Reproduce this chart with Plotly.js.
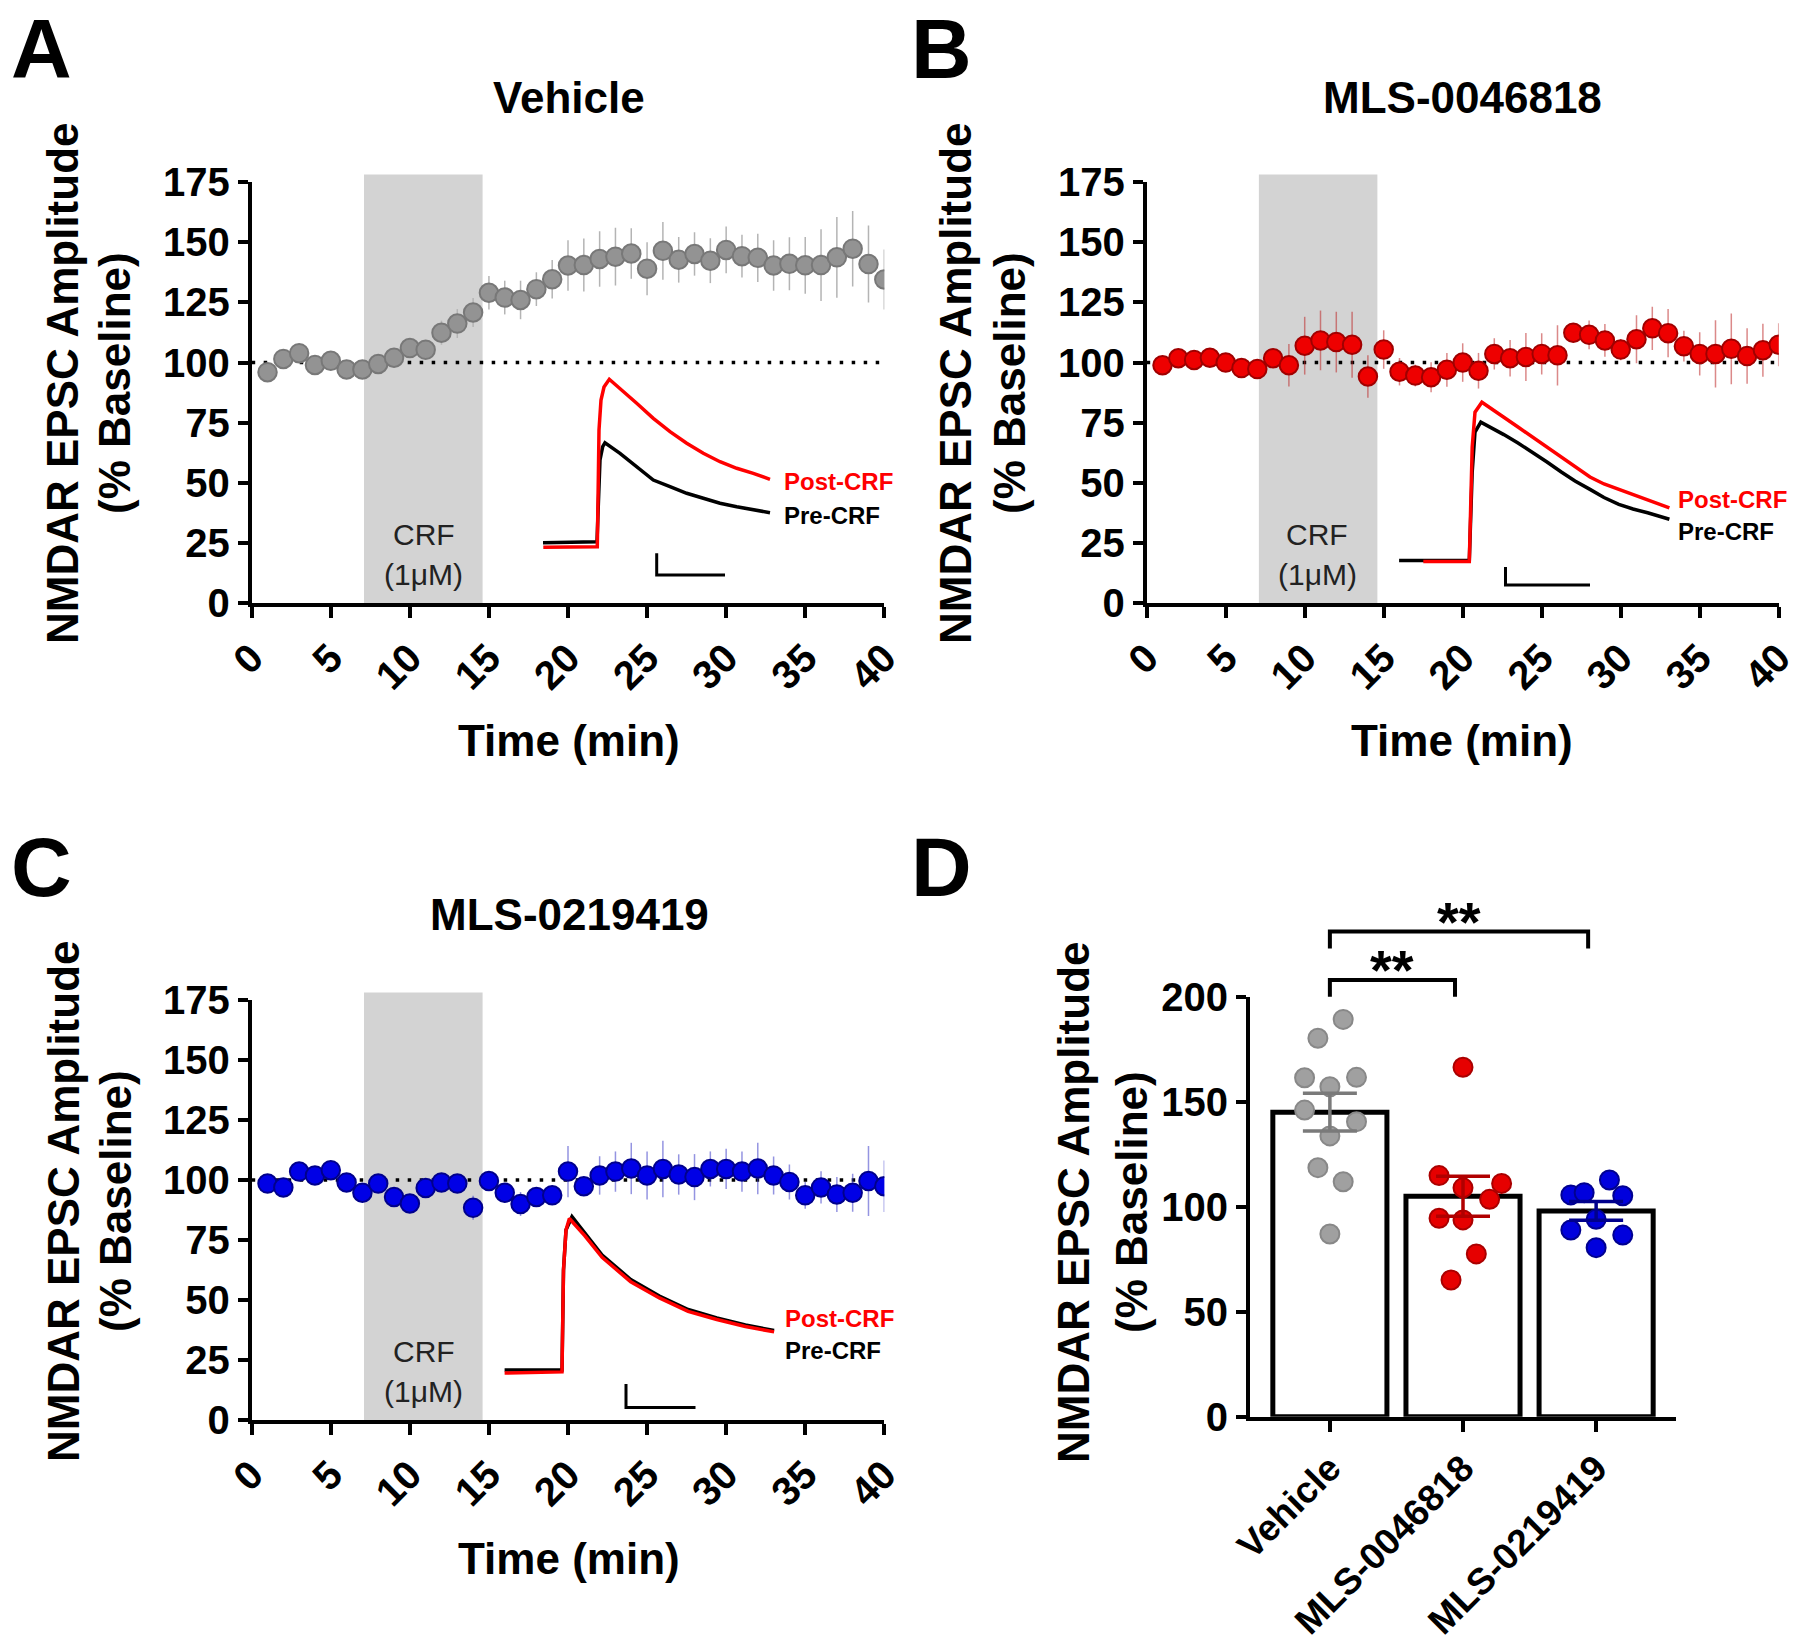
<!DOCTYPE html>
<html>
<head>
<meta charset="utf-8">
<script src="https://cdn.plot.ly/plotly-3.0.1.min.js"></script>
<style>
  html, body { margin: 0; padding: 0; background: #fff; }
  #chart { width: 1800px; height: 1651px; }
</style>
</head>
<body>
<div id="chart"></div>
<script>
const W = 1800, H = 1651;
const FONT = 'Liberation Sans, Arial, Helvetica, sans-serif';

// time course data (% baseline, mean and SEM per minute)
const minutes = [1, 2, 3, 4, 5, 6, 7, 8, 9, 10, 11, 12, 13, 14, 15, 16, 17, 18, 19, 20,
                 21, 22, 23, 24, 25, 26, 27, 28, 29, 30, 31, 32, 33, 34, 35, 36, 37, 38, 39, 40];
const vehicleAmp = [96.0, 101.5, 103.9, 99.0, 100.7, 97.1, 97.1, 99.4, 102.0, 106.0,
                    105.3, 112.4, 116.2, 120.8, 129.0, 127.0, 126.0, 130.5, 134.6, 140.3,
                    140.5, 143.0, 144.0, 145.3, 139.0, 146.4, 142.7, 145.1, 142.3, 146.8,
                    144.2, 143.5, 140.3, 141.0, 140.4, 140.5, 143.7, 147.3, 140.9, 134.5];
const vehicleSem = [3, 3, 3, 3, 3, 3, 3, 3, 4, 4, 4, 5, 6, 6, 7, 7, 8, 7, 8, 10.5,
                    11, 11.5, 12, 10.5, 11, 12, 9.5, 9, 9.3, 9.7, 8.9, 10, 10.5, 11, 11.8, 14.9, 16.8, 15.7, 16, 12.5];
const mls46Amp = [98.9, 101.8, 101.1, 102.0, 100.0, 97.7, 97.3, 101.8, 98.9, 107.0,
                  109.2, 108.5, 107.4, 94.2, 105.4, 96.2, 94.6, 93.9, 97.0, 100.0,
                  96.6, 103.6, 101.8, 102.3, 103.6, 103.0, 112.4, 111.5, 109.2, 105.4,
                  109.7, 114.2, 112.2, 106.8, 103.6, 103.6, 105.7, 102.7, 105.1, 107.4];
const mls46Sem = [2, 2, 2, 2, 2, 2, 2, 3, 8.8, 12, 12.4, 12.6, 13.7, 8.8, 8, 5.7, 4.5, 6.2, 7, 8,
                  7.4, 6.5, 7.6, 10, 8.6, 12.5, 4, 6, 6.8, 4.4, 10, 9, 10, 6.4, 9, 14, 14.7, 11.5, 11, 8.9];
const mls21Amp = [98.5, 96.9, 103.5, 101.9, 104.1, 99.0, 94.7, 98.5, 92.9, 90.2,
                  96.7, 99.0, 98.5, 88.4, 99.6, 94.7, 90.0, 92.9, 93.6, 103.5,
                  97.4, 101.9, 103.5, 104.8, 101.9, 104.6, 102.3, 101.2, 104.6, 104.6,
                  103.5, 104.8, 101.9, 99.2, 93.6, 96.9, 94.0, 94.7, 99.6, 97.4];
const mls21Sem = [2, 2, 2, 2, 2, 2, 2, 2, 3, 3, 2, 2, 2, 5, 2, 4, 5, 3, 3, 10.7,
                  4, 8, 8.4, 10.7, 10, 11.8, 8.4, 9.6, 7.3, 8.4, 8.4, 10.7, 7.9, 7.3, 5.6, 6.7, 7.3, 7.9, 14.6, 10.7];
const crfWindow = [7.1, 14.6];
const baseline = 100;

// summary (panel D)
const groups = ['Vehicle', 'MLS-0046818', 'MLS-0219419'];
const groupMean = [145, 105, 98];
const groupSem = [9, 9.5, 4.5];
const vehCells = [189.2, 180.2, 161.4, 161.6, 157.1, 146.0, 140.5, 133.7, 118.6, 111.9, 87.0];
const vehJitter = [0.1, -0.09, -0.19, 0.2, 0, -0.19, 0.2, 0, -0.09, 0.1, 0];
const m46Cells = [166.4, 114.8, 111.1, 109.0, 103.5, 94.5, 93.7, 77.5, 65.1];
const m46Jitter = [0, -0.18, 0.29, 0, 0.2, -0.18, 0, 0.1, -0.09];
const m21Cells = [112.7, 105.6, 106.7, 105.2, 94.0, 88.9, 86.5, 80.5];
const m21Jitter = [0.1, -0.19, -0.09, 0.2, 0, -0.19, 0.2, 0];
const sigPairs = [[0, 1], [0, 2]];
const sigHeights = [208, 231];

// example EPSC traces (inset units = px within the inset box)
const preA_t = [3, 57, 58.5, 60, 62.7, 65, 80, 96.7, 113.3, 130, 146.7, 163.3, 180, 196.7, 213.3, 230];
const preA_v = [37.3, 38.3, 80, 120, 133.3, 137.3, 126.7, 113.3, 100, 93.3, 86.7, 81.7, 76.7, 73.3, 70.7, 67.3];
const postA_t = [3.3, 57.3, 58.3, 59, 61, 64, 69.3, 80, 96.7, 113.3, 130, 146.7, 163.3, 180, 196.7, 213.3, 230];
const postA_v = [32.7, 33.3, 100, 150, 180, 193, 200.7, 191.7, 176.7, 161.7, 148.3, 136.7, 126.7, 118.3, 111.7, 106.7, 100.7];
const preB_t = [19.1, 43.3, 89.3, 92.2, 95, 100.8, 112, 123.8, 138, 152.5, 167, 181.3, 195, 210, 224, 238.8, 253, 267.6, 289.4];
const preB_v = [39.4, 39.4, 39.4, 128, 168, 177.9, 172, 165.4, 157, 148, 138, 128, 119, 110.6, 102.5, 95.7, 91, 87.2, 80.7];
const postB_t = [43.3, 89.3, 92.2, 95, 101.9, 112, 123.8, 138, 152.5, 167, 181.3, 195, 210, 224, 238.8, 253, 267.6, 289.4];
const postB_v = [38.4, 38.4, 153, 187.8, 197.8, 190.5, 182.8, 173, 162.9, 152.5, 143, 132.5, 123, 116, 110.6, 105, 100.6, 92.2];
const preC_t = [14.6, 72, 73.5, 76, 82, 94.9, 112.1, 140.7, 169.4, 198.1, 226.8, 255.4, 284.1];
const preC_v = [50, 50, 150, 190, 203.5, 186.5, 165, 140.5, 124, 110.5, 102, 95, 89.5];
const postC_t = [14.6, 72, 73.5, 76, 79.4, 94.9, 112.1, 140.7, 169.4, 198.1, 226.8, 255.4, 284.1];
const postC_v = [47, 48.1, 150, 190, 201.5, 184.2, 162.6, 138.3, 122.1, 108.6, 100.5, 93.5, 88.1];
const scaleA = {x: [116.7, 116.7, 185], y: [26.7, 5, 5]};
const scaleB = {x: [125.5, 125.5, 210], y: [33, 15, 15]};
const scaleC = {x: [136, 136, 205.5], y: [36, 12.5, 12.5]};

function px(x) { return x / W; }
function py(y) { return 1 - y / H; }

function timeTrace(amp, sem, xa, ya, fill, rim, errColor) {
    return {
        x: minutes, y: amp, xaxis: xa, yaxis: ya,
        type: 'scatter', mode: 'markers',
        marker: { size: 18.5, color: fill, line: { color: rim, width: 2 } },
        error_y: { type: 'data', array: sem, visible: true, color: errColor, thickness: 1.5, width: 0 },
        hoverinfo: 'skip'
    };
}

function traceLine(t, v, xa, ya, color) {
    return { x: t, y: v, xaxis: xa, yaxis: ya, type: 'scatter', mode: 'lines',
             line: { color: color, width: 3.5 }, hoverinfo: 'skip' };
}

function cellTrace(vals, jit, idx, fill, rim) {
    return {
        x: vals.map((v, i) => idx + jit[i]), y: vals, xaxis: 'x4', yaxis: 'y4',
        type: 'scatter', mode: 'markers',
        marker: { size: 19, color: fill, line: { color: rim, width: 2 } },
        hoverinfo: 'skip', cliponaxis: false
    };
}

const traces = [
    timeTrace(vehicleAmp, vehicleSem, 'x', 'y', '#939393', '#787878', '#b4b4b4'),
    timeTrace(mls46Amp, mls46Sem, 'x2', 'y2', '#ee0000', '#a00000', 'rgba(190,40,40,0.55)'),
    timeTrace(mls21Amp, mls21Sem, 'x3', 'y3', '#0000e6', '#00008c', 'rgba(60,60,200,0.55)'),
    // insets
    traceLine(preA_t, preA_v, 'x5', 'y5', '#000'),
    traceLine(postA_t, postA_v, 'x5', 'y5', '#ff0000'),
    traceLine(preB_t, preB_v, 'x6', 'y6', '#000'),
    traceLine(postB_t, postB_v, 'x6', 'y6', '#ff0000'),
    traceLine(preC_t, preC_v, 'x7', 'y7', '#000'),
    traceLine(postC_t, postC_v, 'x7', 'y7', '#ff0000'),
    { x: scaleA.x, y: scaleA.y, xaxis: 'x5', yaxis: 'y5', type: 'scatter', mode: 'lines', line: { color: '#000', width: 3 }, hoverinfo: 'skip' },
    { x: scaleB.x, y: scaleB.y, xaxis: 'x6', yaxis: 'y6', type: 'scatter', mode: 'lines', line: { color: '#000', width: 3 }, hoverinfo: 'skip' },
    { x: scaleC.x, y: scaleC.y, xaxis: 'x7', yaxis: 'y7', type: 'scatter', mode: 'lines', line: { color: '#000', width: 3 }, hoverinfo: 'skip' },
    // panel D
    {
        x: [0, 1, 2], y: groupMean, xaxis: 'x4', yaxis: 'y4', type: 'bar', width: 0.857,
        marker: { color: '#fff', line: { color: '#000', width: 5 } }, hoverinfo: 'skip'
    },
    cellTrace(vehCells, vehJitter, 0, '#a0a0a0', '#888888'),
    cellTrace(m46Cells, m46Jitter, 1, '#e60000', '#aa0000'),
    cellTrace(m21Cells, m21Jitter, 2, '#0000dd', '#000090'),
];
const semColors = ['#7a7a7a', '#b00000', '#00008c'];
groups.forEach((g, i) => {
    traces.push({
        x: [i], y: [groupMean[i]], xaxis: 'x4', yaxis: 'y4', type: 'scatter', mode: 'markers',
        marker: { size: 1, opacity: 0 },
        error_y: { type: 'data', array: [groupSem[i]], visible: true, color: semColors[i], thickness: 3.5, width: 27 },
        hoverinfo: 'skip'
    });
});

const tickFont = { family: FONT, size: 40, weight: 'bold', color: '#000' };

function timeX(dom, anchor) {
    return {
        domain: dom, anchor: anchor, range: [0, 40], tickmode: 'linear', tick0: 0, dtick: 5,
        showline: true, linewidth: 4, linecolor: '#000', ticks: 'outside', ticklen: 11,
        tickwidth: 4, tickcolor: '#000', tickangle: -45, tickfont: tickFont,
        showgrid: false, zeroline: false, fixedrange: true
    };
}
function ampY(dom, anchor, max, step) {
    return {
        domain: dom, anchor: anchor, range: [0, max], tickmode: 'linear', tick0: 0, dtick: step,
        showline: true, linewidth: 4, linecolor: '#000', ticks: 'outside', ticklen: 10,
        tickwidth: 4, tickcolor: '#000', tickfont: tickFont,
        showgrid: false, zeroline: false, fixedrange: true
    };
}
function insetAx(dom, anchor, max) {
    return { domain: dom, anchor: anchor, range: [0, max], visible: false, fixedrange: true };
}

const topY = [py(603.3), py(182)];
const botY = [py(1420), py(1000)];
const leftX = [px(251.7), px(884.3)];
const rightX = [px(1146.7), px(1778.7)];

const layout = {
    width: W, height: H,
    margin: { l: 0, r: 0, t: 0, b: 0 },
    paper_bgcolor: '#fff', plot_bgcolor: 'rgba(0,0,0,0)',
    showlegend: false,
    font: { family: FONT, color: '#000' },
    xaxis: timeX(leftX, 'y'),
    yaxis: ampY(topY, 'x', 175, 25),
    xaxis2: timeX(rightX, 'y2'),
    yaxis2: ampY(topY, 'x2', 175, 25),
    xaxis3: timeX(leftX, 'y3'),
    yaxis3: ampY(botY, 'x3', 175, 25),
    xaxis4: {
        domain: [px(1250), px(1676)], anchor: 'y4', range: [-0.6, 2.6],
        tickmode: 'array', tickvals: [0, 1, 2], ticktext: groups, tickangle: -45,
        showline: true, linewidth: 4, linecolor: '#000', ticks: 'outside', ticklen: 11,
        tickwidth: 4, tickcolor: '#000', tickfont: Object.assign({}, tickFont, { size: 37 }),
        showgrid: false, zeroline: false, fixedrange: true
    },
    yaxis4: ampY([py(1416.7), py(996.7)], 'x4', 200, 50),
    xaxis5: insetAx([px(540), px(900)], 'y5', 360),
    yaxis5: insetAx([py(580), py(340)], 'x5', 240),
    xaxis6: insetAx([px(1380), px(1800)], 'y6', 420),
    yaxis6: insetAx([py(600), py(360)], 'x6', 240),
    xaxis7: insetAx([px(490), px(900)], 'y7', 410),
    yaxis7: insetAx([py(1420), py(1180)], 'x7', 240),
    shapes: [],
    annotations: []
};

// CRF application window and 100% baseline line
[['x', 'y'], ['x2', 'y2'], ['x3', 'y3']].forEach(([xa, ya]) => {
    layout.shapes.push({
        type: 'rect', xref: xa, yref: ya + ' domain', x0: crfWindow[0], x1: crfWindow[1], y0: 0, y1: 1.018,
        fillcolor: '#d3d3d3', line: { width: 0 }, layer: 'below'
    });
    layout.shapes.push({
        type: 'line', xref: xa, yref: ya, x0: 0, x1: 40, y0: baseline, y1: baseline,
        line: { color: '#000', width: 3.5, dash: '3.5px,8.5px' }, layer: 'below'
    });
});

// significance brackets
sigPairs.forEach((p, i) => {
    const yTop = sigHeights[i] / 200;
    const yLow = (sigHeights[i] - 8) / 200;
    const xa = p[0], xb = p[1] - 0.06;
    layout.shapes.push({
        type: 'path', xref: 'x4', yref: 'y4 domain',
        path: `M${xa},${yLow} L${xa},${yTop} L${xb},${yTop} L${xb},${yLow}`,
        line: { color: '#000', width: 4 }
    });
    layout.annotations.push({
        xref: 'x4', yref: 'y4 domain', x: (xa + xb) / 2, y: yTop, yanchor: 'bottom',
        text: '**', showarrow: false, yshift: -23,
        font: { family: FONT, size: 56, weight: 'bold', color: '#000' }
    });
});

function ann(text, x, y, size, extra) {
    return Object.assign({
        xref: 'paper', yref: 'paper', x: px(x), y: py(y), text: text, showarrow: false,
        xanchor: 'center', yanchor: 'middle',
        font: { family: FONT, size: size, weight: 'bold', color: '#000' }
    }, extra || {});
}

const A = layout.annotations;
// panel letters
A.push(ann('A', 41, 0, 84, { yanchor: 'top' }), ann('B', 941, 0, 84, { yanchor: 'top' }),
       ann('C', 41, 818, 84, { yanchor: 'top' }), ann('D', 941, 818, 84, { yanchor: 'top' }));
// panel titles
A.push(ann('Vehicle', 569, 98, 44), ann('MLS-0046818', 1462, 98, 44), ann('MLS-0219419', 569, 915, 44));
// axis titles
A.push(ann('Time (min)', 569, 740, 44), ann('Time (min)', 1462, 740, 44), ann('Time (min)', 569, 1558, 44));
[[63, 115, 383], [956, 1010, 383], [63, 115, 1201], [1073, 1131, 1202]].forEach(([l1, l2, yc]) => {
    A.push(ann('NMDAR EPSC Amplitude', l1, yc, 44, { textangle: -90 }));
    A.push(ann('(% Baseline)', l2, yc, 44, { textangle: -90 }));
});
// CRF labels
[[423.6, 534, 574], [1317, 534, 574], [423.6, 1351, 1391]].forEach(([x, y1, y2]) => {
    const f = { family: FONT, size: 30, weight: 'normal', color: '#222' };
    A.push(ann('CRF', x, y1, 30, { font: f }), ann('(1μM)', x, y2, 30, { font: f }));
});
// inset labels
[['x5', 'y5', 241.7, 98.3, 65], ['x6', 'y6', 296, 101, 69], ['x7', 'y7', 293, 102, 70]].forEach(([xa, ya, x, yPost, yPre]) => {
    A.push({ xref: xa, yref: ya, x: x, y: yPost, text: 'Post-CRF', showarrow: false, xanchor: 'left', yanchor: 'middle',
             font: { family: FONT, size: 24, weight: 'bold', color: '#ff0000' } });
    A.push({ xref: xa, yref: ya, x: x, y: yPre, text: 'Pre-CRF', showarrow: false, xanchor: 'left', yanchor: 'middle',
             font: { family: FONT, size: 24, weight: 'bold', color: '#000' } });
});

Plotly.newPlot('chart', traces, layout, { staticPlot: true, displayModeBar: false });
</script>
</body>
</html>
